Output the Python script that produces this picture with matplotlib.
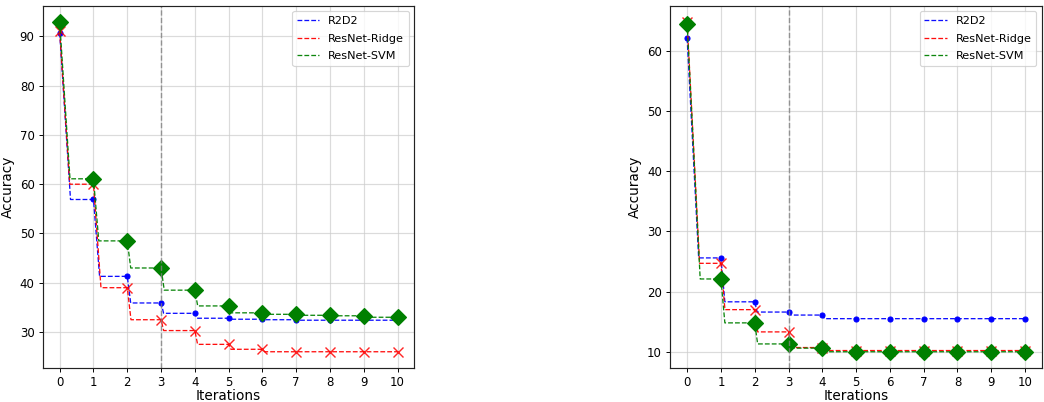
import matplotlib
matplotlib.use('Agg')
import matplotlib.pyplot as plt
import numpy as np

iterations = list(range(11))

# left panel
left_r2d2 = [90.7, 56.9, 41.3, 35.9, 33.8, 32.8, 32.6, 32.5, 32.4, 32.4, 32.4]
left_ridge = [91.0, 60.0, 39.0, 32.5, 30.3, 27.5, 26.5, 26.0, 26.0, 26.0, 26.0]
left_svm = [92.9, 61.1, 48.5, 43.0, 38.5, 35.3, 33.9, 33.6, 33.4, 33.3, 33.0]

# right panel
right_r2d2 = [62.1, 25.6, 18.3, 16.6, 16.1, 15.5, 15.5, 15.5, 15.5, 15.5, 15.5]
right_ridge = [64.8, 24.7, 17.0, 13.3, 10.7, 10.2, 10.2, 10.2, 10.2, 10.2, 10.2]
right_svm = [64.5, 22.1, 14.8, 11.3, 10.6, 10.0, 10.0, 10.0, 10.0, 10.0, 10.0]

labels = ['R2D2', 'ResNet-Ridge', 'ResNet-SVM']
colors = ['blue', 'red', 'green']
markers = [('o', 4.2), ('x', 8), ('D', 9)]


def step_path(x, y):
    # quick drop right after each point, then flat until the next one
    xs, ys = [x[0]], [y[0]]
    for i in range(1, len(x)):
        d = 0.06 + (y[i - 1] - y[i]) / 130.0
        xs += [x[i - 1] + d, x[i]]
        ys += [y[i], y[i]]
    return xs, ys


fig = plt.figure(figsize=(1044 / 85, 402 / 85), dpi=85)
ax1 = fig.add_axes([0.041, 0.084, 0.356, 0.902])
ax2 = fig.add_axes([0.642, 0.084, 0.356, 0.902])

for ax, series in [(ax1, [left_r2d2, left_ridge, left_svm]),
                   (ax2, [right_r2d2, right_ridge, right_svm])]:
    for vals, lab, c, (m, ms) in zip(series, labels, colors, markers):
        xs, ys = step_path(iterations, vals)
        ax.plot(xs, ys, '--', color=c, lw=1.1, alpha=0.95, label=lab)
        ax.plot(iterations, vals, linestyle='none', marker=m, color=c, ms=ms,
                mew=1.2 if m == 'x' else 1.0, alpha=0.85 if m == 'x' else 1.0)
    ax.axvline(3, color='gray', ls='--', lw=1.2, alpha=0.8)
    ax.grid(True, color='#cccccc', lw=1.0, alpha=0.7)
    ax.set_axisbelow(True)
    ax.set_xticks(iterations)
    ax.set_xlabel('Iterations', fontsize=11.5, labelpad=0)
    ax.set_ylabel('Accuracy', fontsize=11.5)
    ax.tick_params(labelsize=10)
    ax.legend(loc='upper right', fontsize=9.5, labelspacing=0.7)
    for s in ax.spines.values():
        s.set_color('#222222')
        s.set_linewidth(1.0)

plt.savefig('out.png', dpi=85)
